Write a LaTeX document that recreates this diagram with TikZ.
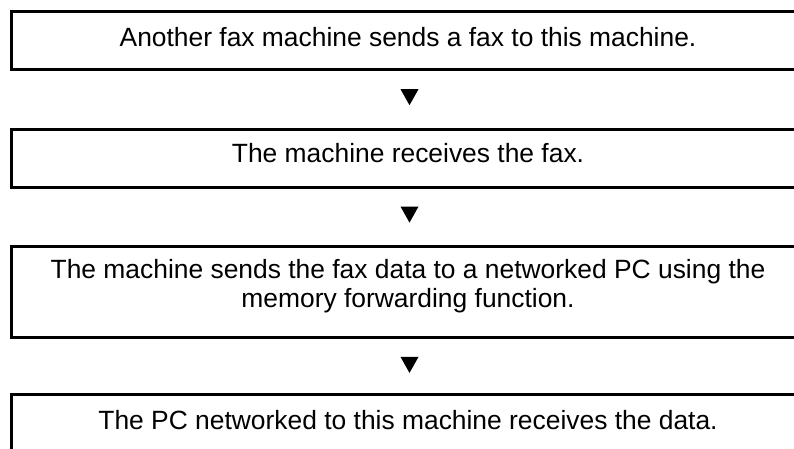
\documentclass[tikz,border=0pt]{standalone}
\usepackage{fontspec}
\setmainfont{Liberation Sans}
\usetikzlibrary{calc}
\begin{document}
\begin{tikzpicture}[x=1pt,y=-1pt,
 stepbox/.style={draw, line width=2.8pt, rectangle, minimum width=796pt, inner sep=0pt},
 txt/.style={font=\fontsize{26.4}{29}\selectfont, anchor=base, inner sep=0pt},
 tri/.style={fill=black}]
\useasboundingbox (0,0) rectangle (794,448);
\clip (0,0) rectangle (794,448);
\node[stepbox, minimum height=58.3pt] (b1) at (409.5,40.65) {};
\node[stepbox, minimum height=57.4pt] (b2) at (409.5,158.5) {};
\node[stepbox, minimum height=91pt] (b3) at (409.5,292) {};
\node[stepbox, minimum height=58pt] (b4) at (409.5,423.8) {};
\node[txt] (t1) at (408,46) {Another fax machine sends a fax to this machine.};
\node[txt] (t2) at (408,162) {The machine receives the fax.};
\node[txt] (t3a) at (408,278) {The machine sends the fax data to a networked PC using the};
\node[txt] (t3b) at (408,307) {memory forwarding function.};
\node[txt] (t4) at (408,429) {The PC networked to this machine receives the data.};
\foreach \b in {b1,b2,b3}{
  \fill[tri] ($(\b.south)+(-9,18)$) -- ++(18,0) -- ++(-9,16) -- cycle;
}
\end{tikzpicture}
\end{document}
